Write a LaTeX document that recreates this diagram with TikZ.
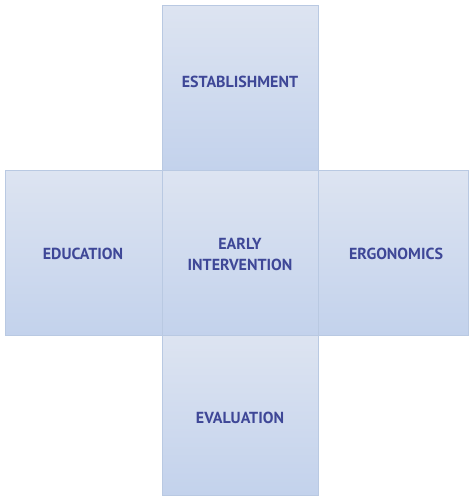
\documentclass[tikz,border=0pt]{standalone}
\usepackage{fontspec}
\setmainfont{PT Sans}
\definecolor{boxtop}{HTML}{DDE4F1}
\definecolor{boxbot}{HTML}{C3D2EC}
\definecolor{boxline}{HTML}{B9C9E2}
\definecolor{txt}{HTML}{3E4797}
\begin{document}
\begin{tikzpicture}[x=1pt,y=-1pt,
  cell/.style={draw=boxline, line width=0.8pt, top color=boxtop, bottom color=boxbot, inner sep=0pt},
  lbl/.style={text=txt, font=\bfseries\fontsize{16}{21}\selectfont, align=center}]
\useasboundingbox (0,0) rectangle (469,496);
\path[cell] (162,5) rectangle (318,170);
\path[cell] (5,170) rectangle (162,335);
\path[cell] (318,170) rectangle (468,335);
\path[cell] (162,335) rectangle (318,495);
\path[cell] (162,170) rectangle (318,335);
\node[lbl] (est) at (240,82) {ESTABLISHMENT};
\node[lbl] (edu) at (83,254) {EDUCATION};
\node[lbl] (ear) at (240,254) {EARLY\\INTERVENTION};
\node[lbl] (erg) at (396,254) {ERGONOMICS};
\node[lbl] (eva) at (240,418) {EVALUATION};
\end{tikzpicture}
\end{document}
